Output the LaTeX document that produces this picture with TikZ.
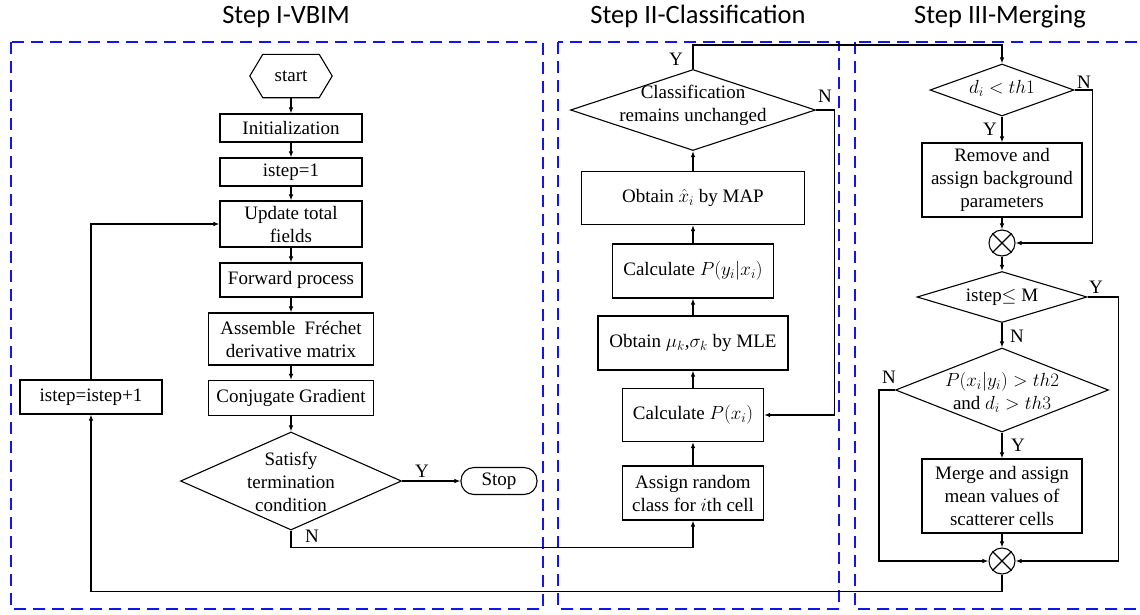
\RequirePackage{fix-cm}
\documentclass[tikz,border=0pt]{standalone}
\usepackage{amsmath}
\usepackage{fontspec}
\setmainfont{Liberation Serif}
\newfontfamily\headfont{Carlito}
\usetikzlibrary{shapes.geometric,arrows.meta}
\definecolor{dashblue}{RGB}{20,20,235}

\begin{document}
\begin{tikzpicture}[x=1pt,y=1pt,font=\fontsize{19}{23}\selectfont]
\tikzstyle{every node}+=[inner sep=0pt]
\tikzstyle{proc}=[draw, line width=1.1pt, align=center]
\tikzstyle{dia}=[draw, diamond, line width=1.1pt]
\tikzstyle{merger}=[draw, circle, line width=1.1pt, minimum size=26pt]
\tikzstyle{wire}=[line width=1.1pt]
\tikzstyle{arr}=[line width=1.1pt, -{Latex[length=6pt,width=4.5pt]}]
\tikzstyle{stepframe}=[draw=dashblue, line width=2.8pt, dash pattern=on 12pt off 7pt]
\tikzstyle{steptitle}=[font=\headfont\fontsize{26.5}{30}\selectfont, anchor=base]
\useasboundingbox (0,0) rectangle (1140,-614);
% dashed frames and titles
\draw[stepframe] (11,-42) rectangle (543,-609);
\draw[stepframe] (558,-42) rectangle (839,-609);
\draw[stepframe] (855,-42) rectangle (1170,-609);
\node[steptitle] (titleone) at (286,-23) {Step I-VBIM};
\node[steptitle] (titletwo) at (698,-23) {Step II-Classification};
\node[steptitle] (titlethree) at (1000,-23) {Step III-Merging};
% step I
\node[minimum width=82pt, minimum height=43pt] (start) at (291,-76) {start};
\draw[wire] (start.west) -- ([xshift=13pt]start.north west) -- ([xshift=-13pt]start.north east)
  -- (start.east) -- ([xshift=-13pt]start.south east) -- ([xshift=13pt]start.south west) -- cycle;
\node[proc, minimum width=142pt, minimum height=28pt] (init) at (291,-128) {Initialization};
\node[proc, minimum width=142pt, minimum height=28pt] (istepone) at (291,-172) {istep=1};
\node[proc, minimum width=142pt, minimum height=46pt] (update) at (291,-224) {Update total\\fields};
\node[proc, minimum width=142pt, minimum height=34pt] (fwd) at (291,-280) {Forward process};
\node[proc, minimum width=165pt, minimum height=52pt] (frechet) at (291,-339) {Assemble~ Fréchet\\derivative matrix};
\node[proc, minimum width=165pt, minimum height=35pt] (cg) at (291,-398) {Conjugate Gradient};
\node[dia, minimum width=221pt, minimum height=98pt] (term) at (291,-481) {};
\node[align=center] (termtxt) at (291,-482) {Satisfy\\termination\\condition};
\node[proc, rounded corners=13pt, minimum width=76pt, minimum height=27pt] (stop) at (499,-481) {Stop};
\node[proc, minimum width=142pt, minimum height=34pt] (inc) at (91,-397) {istep=istep+1};
\draw[arr] (start.south) -- (init.north);
\draw[arr] (init.south) -- (istepone.north);
\draw[arr] (istepone.south) -- (update.north);
\draw[arr] (update.south) -- (fwd.north);
\draw[arr] (fwd.south) -- (frechet.north);
\draw[arr] (frechet.south) -- (cg.north);
\draw[arr] (cg.south) -- (term.north);
\draw[arr] (term.east) -- (stop.west);
\node (termy) at (422,-471) {Y};
\node (termn) at (312,-536) {N};
\draw[arr] (inc.north) |- (update.west);
% step II
\node[dia, minimum width=245pt, minimum height=81pt] (cls) at (693,-110) {};
\node[align=center] (clstxt) at (693,-105) {Classification\\remains unchanged};
\node[proc, minimum width=223pt, minimum height=53pt] (map) at (693,-198) {Obtain $\hat{x}_i$ by MAP};
\node[proc, minimum width=161pt, minimum height=54pt] (pyx) at (693,-271) {Calculate $P(y_i|x_i)$};
\node[proc, minimum width=190pt, minimum height=54pt] (mle) at (693,-343) {Obtain $\mu_k$,$\sigma_k$ by MLE};
\node[proc, minimum width=141pt, minimum height=53pt] (px) at (693,-415) {Calculate $P(x_i)$};
\node[proc, minimum width=141pt, minimum height=54pt] (assign) at (693,-493) {Assign random\\class for $i$th cell};
\draw[arr] (assign.north) -- (px.south);
\draw[arr] (px.north) -- (mle.south);
\draw[arr] (mle.north) -- (pyx.south);
\draw[arr] (pyx.north) -- (map.south);
\draw[arr] (map.north) -- (cls.south);
\draw[arr] (cls.east) -- ++(18,0) |- (px.east);
\node (clsn) at (825,-96) {N};
\node (clsy) at (676,-59) {Y};
% step III
\node[dia, minimum width=144pt, minimum height=52pt] (dth) at (1002,-90) {};
\node (dthtxt) at (1002,-88) {$d_i < th1$};
\node[proc, minimum width=160pt, minimum height=74pt] (remove) at (1002,-180) {Remove and\\assign background\\parameters};
\node[merger] (mone) at (1002,-243) {};
\draw[wire] (mone.north west) -- (mone.south east) (mone.north east) -- (mone.south west);
\node[dia, minimum width=170pt, minimum height=51pt] (istepm) at (1002,-297) {};
\node (istepmtxt) at (1002,-297) {istep$\leq$ M};
\node[dia, minimum width=213pt, minimum height=84pt] (pth) at (1002,-390) {};
\node[align=center] (pthtxt) at (1002,-392) {$P(x_i|y_i) > th2$\\and $d_i > th3$};
\node[proc, minimum width=160pt, minimum height=74pt] (merge) at (1002,-496) {Merge and assign\\mean values of\\scatterer cells};
\node[merger] (mtwo) at (1002,-561) {};
\draw[wire] (mtwo.north west) -- (mtwo.south east) (mtwo.north east) -- (mtwo.south west);
\draw[arr] (dth.south) -- (remove.north);
\node (dthy) at (990,-129) {Y};
\draw[arr] (dth.east) -- ++(18,0) |- (mone.east);
\node (dthn) at (1084,-82) {N};
\draw[arr] (remove.south) -- (mone.north);
\draw[arr] (mone.south) -- (istepm.north);
\draw[arr] (istepm.south) -- (pth.north);
\node (istepmn) at (1017,-336) {N};
\draw[arr] (istepm.east) -- ++(31,0) |- (mtwo.east);
\node (istepmy) at (1096,-287) {Y};
\draw[arr] (pth.south) -- (merge.north);
\node (pthy) at (1018,-445) {Y};
\draw[arr] (pth.west) -- ++(-16,0) |- (mtwo.west);
\node (pthn) at (889,-377) {N};
\draw[arr] (merge.south) -- (mtwo.north);
% links between the steps
\draw[arr] (term.south) -- ++(0,-17) -| (assign.south);
\draw[arr] (cls.north) -- ++(0,24) -| (dth.north);
\draw[arr] (mtwo.south) -- ++(0,-17) -| (inc.south);
\end{tikzpicture}
\end{document}
